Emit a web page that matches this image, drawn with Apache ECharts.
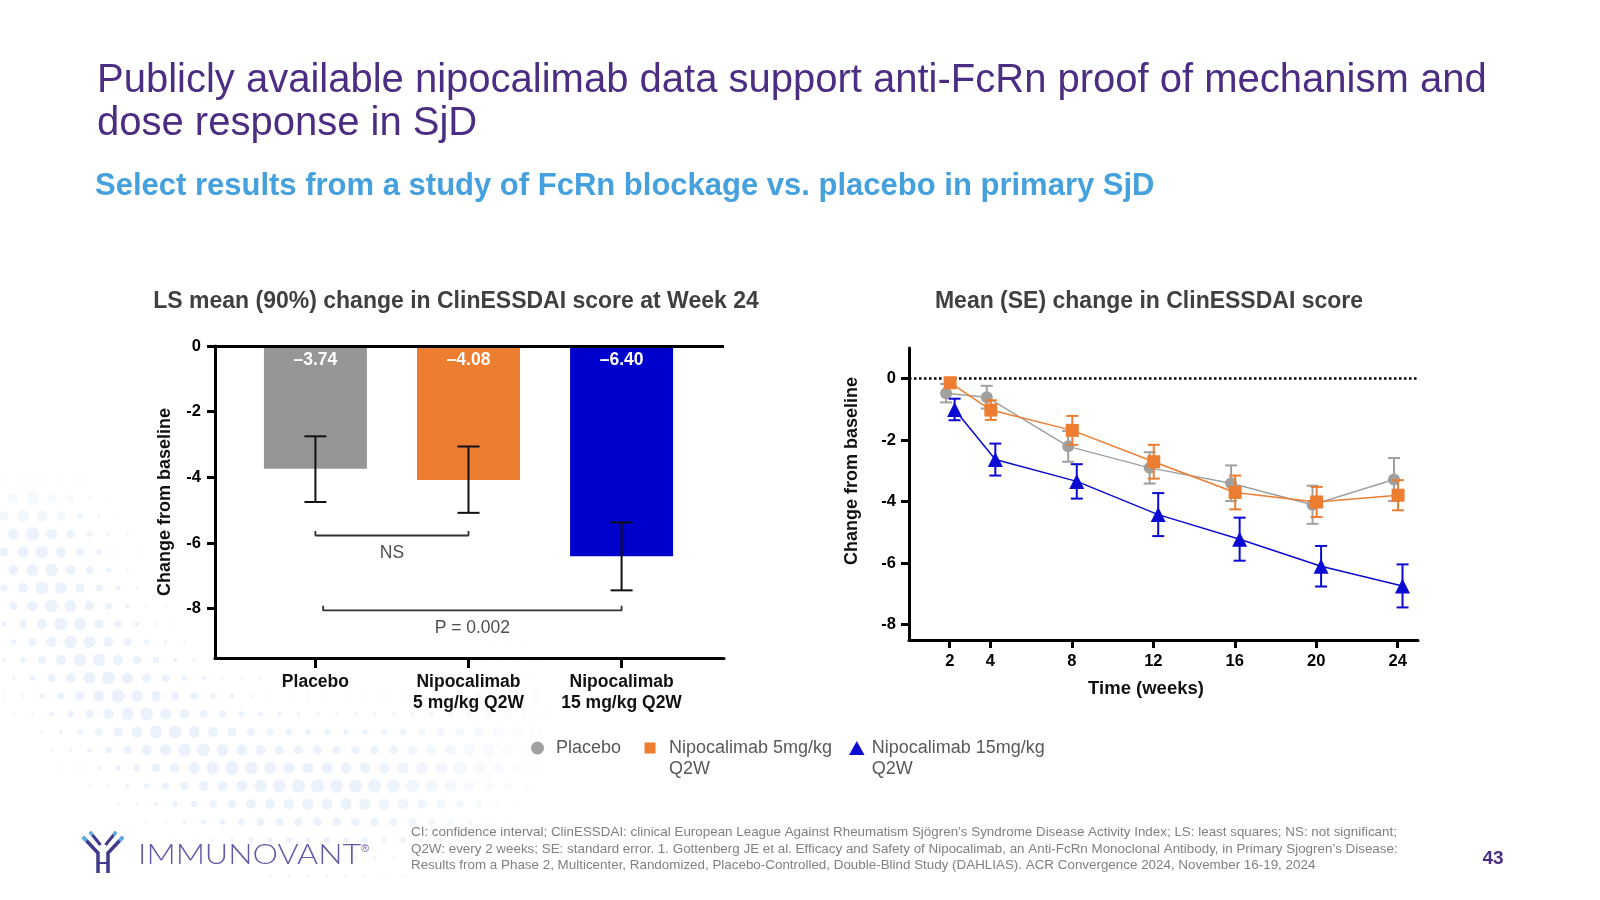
<!DOCTYPE html>
<html>
<head>
<meta charset="utf-8">
<script src="https://cdn.jsdelivr.net/npm/echarts@6/dist/echarts.min.js"></script>
<style>
html,body{margin:0;padding:0;background:#fff;}
#chart{width:1600px;height:900px;}
</style>
</head>
<body>
<div id="chart"></div>
<script>
// ---------- DATA ----------
const barCategories = ['Placebo', 'Nipocalimab\n5 mg/kg Q2W', 'Nipocalimab\n15 mg/kg Q2W'];
const barValues = [-3.74, -4.08, -6.40];
const barCILow = [-4.75, -5.08, -7.44];
const barCIHigh = [-2.75, -3.06, -5.37];
const barYTicks = [0, -2, -4, -6, -8];

const nsBracket = { from: 0, to: 1, y: -5.77, text: 'NS' };
const pBracket = { from: 0.05, to: 2, y: -8.05, text: 'P = 0.002' };

const weeks = [2, 4, 8, 12, 16, 20, 24];
const lineYTicks = [0, -2, -4, -6, -8];
const seriesNames = ['Placebo', 'Nipocalimab 5mg/kg\nQ2W', 'Nipocalimab 15mg/kg\nQ2W'];
const placeboMean = [-0.47, -0.60, -2.20, -2.90, -3.40, -4.10, -3.28];
const placeboSE   = [0.30, 0.37, 0.50, 0.51, 0.58, 0.62, 0.70];
const nipo5Mean   = [-0.13, -1.02, -1.68, -2.70, -3.70, -4.01, -3.79];
const nipo5SE     = [0.12, 0.32, 0.47, 0.55, 0.55, 0.49, 0.49];
const nipo15Mean  = [-1.00, -2.63, -3.34, -4.42, -5.22, -6.10, -6.74];
const nipo15SE    = [0.35, 0.52, 0.56, 0.70, 0.70, 0.66, 0.70];

// ---------- CHART ----------
const chart = echarts.init(document.getElementById('chart'), null, { renderer: 'canvas' });
const FONT = '"Liberation Sans", Arial, sans-serif';

function errorRender(color, capHalf, lw) {
  return function (params, api) {
    const x = api.value(0), lo = api.value(1), hi = api.value(2);
    const a = api.coord([x, hi]);
    const b = api.coord([x, lo]);
    const st = { stroke: color, lineWidth: lw };
    return {
      type: 'group',
      children: [
        { type: 'line', shape: { x1: a[0], y1: a[1], x2: b[0], y2: b[1] }, style: st },
        { type: 'line', shape: { x1: a[0] - capHalf, y1: a[1], x2: a[0] + capHalf, y2: a[1] }, style: st },
        { type: 'line', shape: { x1: b[0] - capHalf, y1: b[1], x2: b[0] + capHalf, y2: b[1] }, style: st }
      ]
    };
  };
}

function bracketData(br, h) {
  return [[br.from, br.y + h], [br.from, br.y], [br.to, br.y], [br.to, br.y + h]];
}

const lineDefs = [
  { name: seriesNames[0], mean: placeboMean, se: placeboSE, color: '#a0a0a0', off: -0.18, symbol: 'circle', size: 12 },
  { name: seriesNames[1], mean: nipo5Mean, se: nipo5SE, color: '#ed7d31', off: 0.02, symbol: 'rect', size: 13 },
  { name: seriesNames[2], mean: nipo15Mean, se: nipo15SE, color: '#0a0ad2', off: 0.24, symbol: 'triangle', size: 15 }
];

const series = [];

// Left: bars
series.push({
  type: 'bar', xAxisIndex: 0, yAxisIndex: 0, barWidth: 103,
  data: barValues.map((v, i) => ({
    value: [i, v],
    itemStyle: { color: ['#969696', '#ed7d31', '#0000cc'][i] }
  })),
  label: {
    show: true, position: 'insideTop', distance: 5,
    color: '#fff', fontWeight: 'bold', fontSize: 17.5, fontFamily: FONT,
    formatter: p => '\u2013' + Math.abs(p.value[1]).toFixed(2)
  },
  markLine: {
    silent: true, symbol: 'none', label: { show: false },
    lineStyle: { color: '#000', width: 3, type: 'solid' },
    data: [{ yAxis: 0 }]
  },
  z: 2
});
series.push({
  type: 'custom', xAxisIndex: 0, yAxisIndex: 0,
  renderItem: errorRender('#111', 11, 2),
  data: barValues.map((v, i) => [i, barCILow[i], barCIHigh[i]]),
  encode: { x: 0, y: [1, 2] }, z: 5
});
[nsBracket, pBracket].forEach(br => {
  series.push({
    type: 'line', xAxisIndex: 0, yAxisIndex: 0, symbol: 'none', silent: true,
    data: bracketData(br, 0.14),
    lineStyle: { color: '#333', width: 1.8 }, z: 5
  });
});
series.push({
  type: 'scatter', xAxisIndex: 0, yAxisIndex: 0, symbolSize: 0, silent: true,
  data: [
    { value: [(nsBracket.from + nsBracket.to) / 2, nsBracket.y - 0.55], name: nsBracket.text },
    { value: [(pBracket.from + pBracket.to) / 2, pBracket.y - 0.55], name: pBracket.text }
  ],
  label: { show: true, position: 'inside', formatter: p => p.name, color: '#222', fontSize: 17.5, fontFamily: FONT }
});

// Right: lines with SE error bars
lineDefs.forEach((d, k) => {
  series.push({
    type: 'custom', xAxisIndex: 1, yAxisIndex: 1,
    renderItem: errorRender(d.color, 6, 2),
    data: weeks.map((w, i) => [w + d.off, d.mean[i] - d.se[i], d.mean[i] + d.se[i]]),
    encode: { x: 0, y: [1, 2] }, z: 3 + k * 2
  });
  const s = {
    name: d.name, type: 'line', xAxisIndex: 1, yAxisIndex: 1,
    data: weeks.map((w, i) => [w + d.off, d.mean[i]]),
    symbol: d.symbol, symbolSize: d.size, showSymbol: true,
    itemStyle: { color: d.color, borderWidth: 0 },
    lineStyle: { color: d.color, width: 1.5 },
    z: 4 + k * 2
  };
  if (k === 0) {
    s.markLine = {
      silent: true, symbol: 'none', label: { show: false },
      lineStyle: { color: '#000', width: 2.5, type: 'dotted' },
      data: [{ yAxis: 0 }]
    };
  }
  series.push(s);
});

const axisLineStyle = { onZero: false, lineStyle: { color: '#000', width: 3 } };
const tickLbl = { color: '#000', fontWeight: 'bold', fontSize: 16.5, fontFamily: FONT };

function legendFor(i, left, icon, w, h) {
  const lines = seriesNames[i].split('\n').length;
  return {
    left: left, top: 739, padding: 0,
    data: [{ name: seriesNames[i], icon: icon }],
    itemWidth: w, itemHeight: h, itemGap: 0,
    selectedMode: false, symbolKeepAspect: true,
    itemStyle: { borderWidth: 0 },
    formatter: n => n.split('\n').map(s => '{a|' + s + '}').join('\n'),
    textStyle: {
      padding: [lines > 1 ? 21.5 : 0, 0, 0, 0],
      rich: { a: { color: '#595959', fontSize: 18, fontFamily: FONT, lineHeight: 21.5 } }
    }
  };
}

// decorative dotted background (bottom-left arc of faint dots)
const dots = [];
for (let j = 0; j < 26; j++) {
  for (let i = 0; i < 30; i++) {
    const x = 4 + i * 19 + (j % 2) * 9.5;
    const y = 480 + j * 18;
    if (x > 560 || y > 900) continue;
    const dist = Math.hypot(x - 345, y - 470);
    const dd = Math.abs(dist - 318);
    if (dd > 95) continue;
    const r = Math.max(1.3, 6.8 - dd / 14);
    const fade = Math.min(1, (560 - x) / 200) * Math.min(1, (y - 470) / 70);
    dots.push({ type: 'circle', silent: true, z: -10, shape: { cx: x, cy: y, r: r }, style: { fill: '#e4eef9', opacity: 0.75 * fade } });
  }
}

const option = {
  animation: false,
  backgroundColor: '#ffffff',
  grid: [
    { left: 215, top: 346, width: 509, height: 312, containLabel: false },
    { left: 909, top: 348, width: 509, height: 292, containLabel: false }
  ],
  xAxis: [
    {
      type: 'value', gridIndex: 0, min: -0.656, max: 2.669,
      axisLine: { show: true, ...axisLineStyle },
      axisTick: { show: true, customValues: [0, 1, 2], length: 10, lineStyle: { color: '#000', width: 3 } },
      axisLabel: {
        customValues: [0, 1, 2], formatter: v => barCategories[Math.round(v)],
        color: '#111', fontWeight: 'bold', fontSize: 17.5, fontFamily: FONT, lineHeight: 21.5, margin: 13
      },
      splitLine: { show: false }
    },
    {
      type: 'value', gridIndex: 1, min: 0, max: 25,
      axisLine: { show: true, ...axisLineStyle },
      axisTick: { show: true, customValues: weeks, length: 8, lineStyle: { color: '#000', width: 3 } },
      axisLabel: { customValues: weeks, ...tickLbl, lineHeight: 17, margin: 13 },
      splitLine: { show: false }
    }
  ],
  yAxis: [
    {
      type: 'value', gridIndex: 0, min: -9.5, max: 0,
      axisLine: { show: true, ...axisLineStyle },
      axisTick: { show: true, customValues: barYTicks, length: 8, lineStyle: { color: '#000', width: 3 } },
      axisLabel: { customValues: barYTicks, ...tickLbl, margin: 14 },
      splitLine: { show: false },
      name: 'Change from baseline', nameLocation: 'middle', nameGap: 41,
      nameTextStyle: { color: '#111', fontWeight: 'bold', fontSize: 18, fontFamily: FONT }
    },
    {
      type: 'value', gridIndex: 1, min: -8.5, max: 1,
      axisLine: { show: true, ...axisLineStyle },
      axisTick: { show: true, customValues: lineYTicks, length: 8, lineStyle: { color: '#000', width: 3 } },
      axisLabel: { customValues: lineYTicks, ...tickLbl, margin: 13 },
      splitLine: { show: false }
    }
  ],
  legend: [
    legendFor(0, 531, 'circle', 27, 13),
    legendFor(1, 644.5, 'path://M0,0L10,0L10,10L0,10Z', 28, 11),
    legendFor(2, 849, 'path://M5,0L10,9L0,9Z', 20, 14)
  ],
  series: series,
  graphic: dots.concat([
    { type: 'text', x: 97, y: 102, style: { text: 'Publicly available nipocalimab data support anti-FcRn proof of mechanism and\ndose response in SjD', fill: '#4b2e83', fontSize: 40, fontFamily: FONT, lineHeight: 43, verticalAlign: 'middle' } },
    { type: 'text', x: 95, y: 186, style: { text: 'Select results from a study of FcRn blockage vs. placebo in primary SjD', fill: '#45a1dd', fontSize: 31, fontWeight: 'bold', fontFamily: FONT, verticalAlign: 'middle' } },
    { type: 'text', x: 456, y: 302, style: { text: 'LS mean (90%) change in ClinESSDAI score at Week 24', fill: '#404040', fontSize: 23, fontWeight: 'bold', fontFamily: FONT, align: 'center', verticalAlign: 'middle' } },
    { type: 'text', x: 1149, y: 302, style: { text: 'Mean (SE) change in ClinESSDAI score', fill: '#404040', fontSize: 23, fontWeight: 'bold', fontFamily: FONT, align: 'center', verticalAlign: 'middle' } },
    { type: 'text', x: 852, y: 471, rotation: Math.PI / 2, style: { text: 'Change from baseline', fill: '#111', fontSize: 18, fontWeight: 'bold', fontFamily: FONT, align: 'center', verticalAlign: 'middle' } },
    { type: 'text', x: 1146, y: 689, style: { text: 'Time (weeks)', fill: '#111', fontSize: 18.5, fontWeight: 'bold', fontFamily: FONT, align: 'center', verticalAlign: 'middle' } },
    { type: 'text', x: 411, y: 849, style: { text: 'CI: confidence interval; ClinESSDAI: clinical European League Against Rheumatism Sjögren\u2019s Syndrome Disease Activity Index; LS: least squares; NS: not significant;\nQ2W: every 2 weeks; SE: standard error. 1. Gottenberg JE et al. Efficacy and Safety of Nipocalimab, an Anti-FcRn Monoclonal Antibody, in Primary Sjogren\u2019s Disease:\nResults from a Phase 2, Multicenter, Randomized, Placebo-Controlled, Double-Blind Study (DAHLIAS). ACR Convergence 2024, November 16-19, 2024', fill: '#808080', fontSize: 13.4, fontFamily: FONT, lineHeight: 16.3, verticalAlign: 'middle' } },
    { type: 'text', x: 1493, y: 859, style: { text: '43', fill: '#4b2e83', fontSize: 19, fontWeight: 'bold', fontFamily: FONT, align: 'center', verticalAlign: 'middle' } },
    // logo
    { type: 'text', x: 138, y: 855, scaleX: 1.15, style: { text: 'IMMUNOVANT', fill: '#6657a6', fontSize: 28, fontFamily: '"Lato", "Liberation Sans", sans-serif', fontWeight: 300, verticalAlign: 'middle' } },
    { type: 'text', x: 361, y: 849, style: { text: '\u00AE', fill: '#6657a6', fontSize: 11, fontFamily: FONT, verticalAlign: 'middle' } },
    { type: 'polyline', shape: { points: [[83, 837], [98, 853], [98, 873]] }, style: { stroke: '#3f3a8a', lineWidth: 3.5, fill: null } },
    { type: 'polyline', shape: { points: [[123, 837], [108, 853], [108, 873]] }, style: { stroke: '#3f3a8a', lineWidth: 3.5, fill: null } },
    { type: 'line', shape: { x1: 90, y1: 832, x2: 100.5, y2: 845 }, style: { stroke: '#3f3a8a', lineWidth: 3 } },
    { type: 'line', shape: { x1: 116, y1: 832, x2: 105.5, y2: 845 }, style: { stroke: '#3f3a8a', lineWidth: 3 } },
    { type: 'line', shape: { x1: 98, y1: 863, x2: 108, y2: 863 }, style: { stroke: '#3f3a8a', lineWidth: 2 } },
    { type: 'line', shape: { x1: 83, y1: 837, x2: 86.5, y2: 840.7 }, style: { stroke: '#5fb0e6', lineWidth: 3.5 } },
    { type: 'line', shape: { x1: 123, y1: 837, x2: 119.5, y2: 840.7 }, style: { stroke: '#5fb0e6', lineWidth: 3.5 } },
    { type: 'line', shape: { x1: 90, y1: 832, x2: 92.5, y2: 835 }, style: { stroke: '#5fb0e6', lineWidth: 3 } },
    { type: 'line', shape: { x1: 116, y1: 832, x2: 113.5, y2: 835 }, style: { stroke: '#5fb0e6', lineWidth: 3 } }
  ])
};

chart.setOption(option);
</script>
</body>
</html>
